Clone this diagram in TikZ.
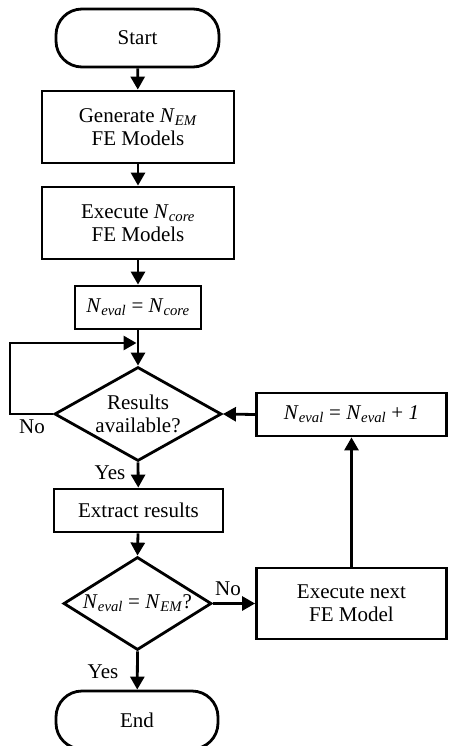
\documentclass[tikz,border=0pt]{standalone}
\usepackage{fontspec}
\setmainfont{Liberation Serif}
\usetikzlibrary{arrows.meta,shapes.geometric}
\newcommand{\Nsub}[1]{\textit{N}\textsubscript{\textit{#1}}}
\tikzset{
  every node/.style={font=\fontsize{21}{23}\selectfont},
  proc/.style={draw, line width=2.8pt, rectangle, align=center, inner sep=0pt},
  term/.style={draw, line width=2.8pt, rectangle, rounded corners=26pt, align=center, inner sep=0pt},
  dia/.style={draw, line width=2.8pt, diamond, inner sep=0pt},
  arr/.style={line width=2.8pt, -{Triangle[length=13pt,width=14pt]}},
  lbl/.style={inner sep=0pt}
}
\begin{document}
\begin{tikzpicture}[x=1pt,y=-1pt]
\useasboundingbox (0,0) rectangle (448,746);
\node[term, minimum width=163pt, minimum height=58pt] (start) at (137.5,38) {Start};
\node[proc, minimum width=192pt, minimum height=72pt] (gen) at (138,127) {Generate \Nsub{EM}\\FE Models};
\node[proc, minimum width=192pt, minimum height=72pt] (exe) at (138,223) {Execute \Nsub{core}\\FE Models};
\node[proc, minimum width=126pt, minimum height=43pt] (neval) at (138,307.5) {\Nsub{eval} = \Nsub{core}};
\node[dia, minimum width=167pt, minimum height=94pt] (d1) at (138,414) {};
\node[align=center, inner sep=0pt] (d1t) at (d1) {Results\\available?};
\node[proc, minimum width=190pt, minimum height=43pt] (inc) at (351.5,414.5) {\Nsub{eval} = \Nsub{eval} + \textit{1}};
\node[proc, minimum width=169pt, minimum height=43pt] (extract) at (138.5,510.5) {Extract results};
\node[dia, minimum width=148pt, minimum height=93pt] (d2) at (137.5,603.5) {};
\node[inner sep=0pt] (d2t) at (d2) {\Nsub{eval} = \Nsub{EM}?};
\node[proc, minimum width=190pt, minimum height=71pt] (next) at (351.5,603.5) {Execute next\\FE Model};
\node[term, minimum width=162pt, minimum height=58pt] (end) at (137,720) {End};
\coordinate (lp) at (10,343);
\coordinate (j) at (136.5,343);
\draw[arr] (start) -- (gen);
\draw[arr] (gen) -- (exe);
\draw[arr] (exe) -- (neval);
\draw[arr] (neval) -- (d1.north);
\draw[arr] (d1.west) -| (lp) -- (j);
\draw[arr] (d1.south) -- (extract);
\draw[arr] (extract) -- (d2.north);
\draw[arr] (d2.east) -- (next.west);
\draw[arr] (next) -- (inc);
\draw[arr] (inc.west) -- (d1.east);
\draw[arr] (d2.south) -- (end);
\node[lbl] (no1) at (32,427) {No};
\node[lbl] (yes1) at (110,473) {Yes};
\node[lbl] (no2) at (228,589) {No};
\node[lbl] (yes2) at (103,672) {Yes};
\end{tikzpicture}
\end{document}
